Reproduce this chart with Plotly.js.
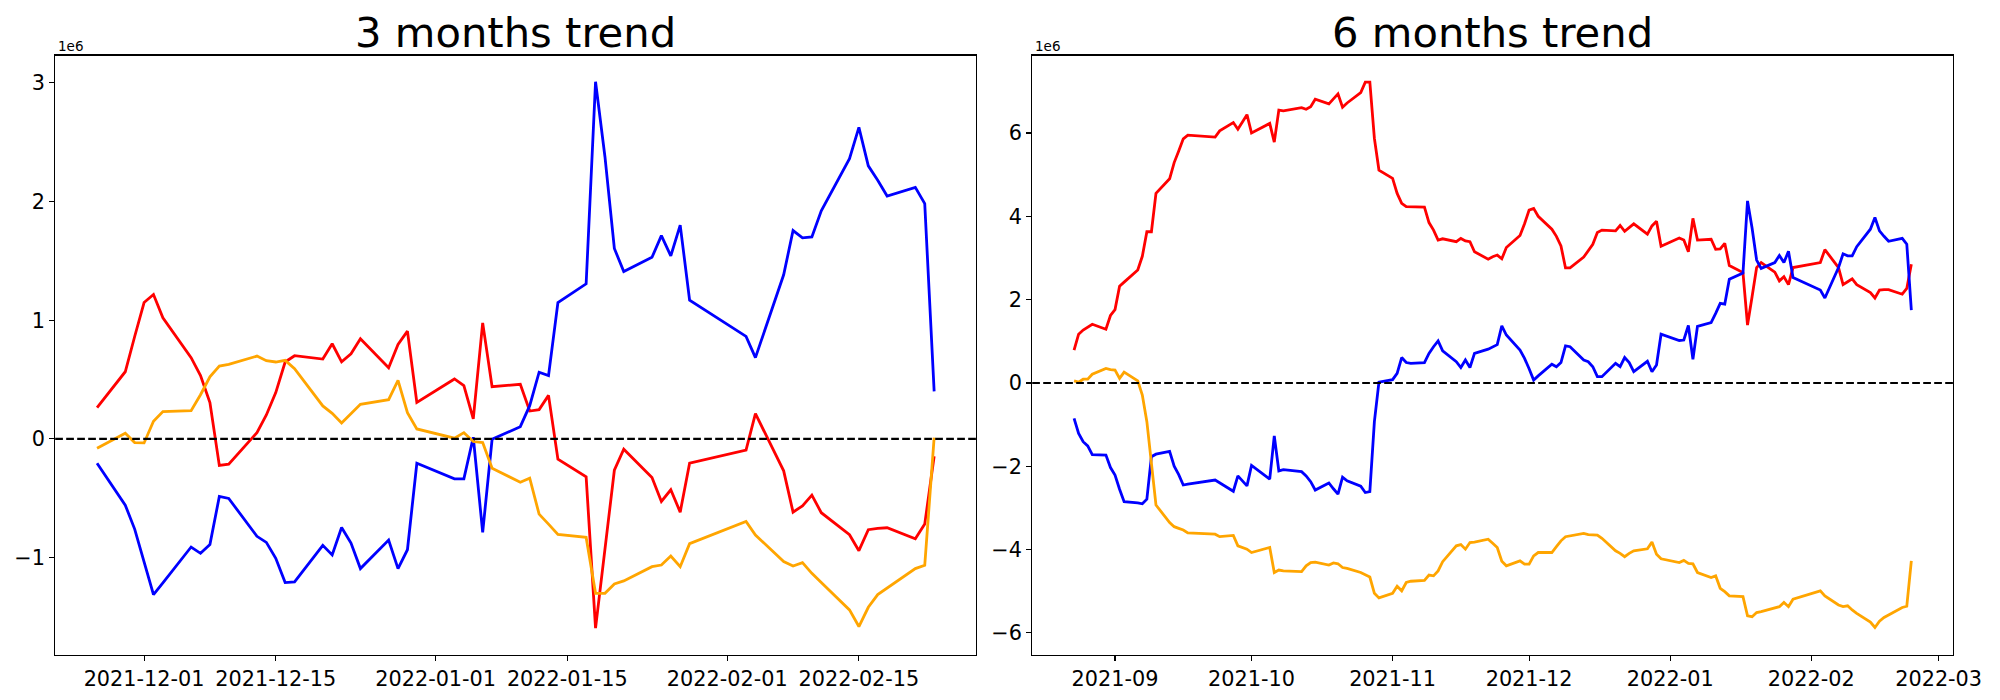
<!DOCTYPE html>
<html>
<head>
<meta charset="utf-8">
<script src="https://cdn.plot.ly/plotly-3.0.1.min.js"></script>
<style>html,body{margin:0;padding:0;background:#fff;}#chart{width:2000px;height:700px;}</style>
</head>
<body>
<div id="chart"></div>
<script>
// ---------- 3 months (values in units of 1e6) ----------
const dates3 = ["2021-11-26","2021-11-29","2021-11-30","2021-12-01","2021-12-02","2021-12-03","2021-12-06","2021-12-07","2021-12-08","2021-12-09","2021-12-10","2021-12-13","2021-12-14","2021-12-15","2021-12-16","2021-12-17","2021-12-20","2021-12-21","2021-12-22","2021-12-23","2021-12-24","2021-12-27","2021-12-28","2021-12-29","2021-12-30","2022-01-03","2022-01-04","2022-01-05","2022-01-06","2022-01-07","2022-01-10","2022-01-11","2022-01-12","2022-01-13","2022-01-14","2022-01-17","2022-01-18","2022-01-19","2022-01-20","2022-01-21","2022-01-24","2022-01-25","2022-01-26","2022-01-27","2022-01-28","2022-02-03","2022-02-04","2022-02-07","2022-02-08","2022-02-09","2022-02-10","2022-02-11","2022-02-14","2022-02-15","2022-02-16","2022-02-17","2022-02-18","2022-02-21","2022-02-22","2022-02-23"];
const red3 = [0.264,0.566,0.863,1.149,1.217,1.020,0.685,0.533,0.306,-0.224,-0.213,0.053,0.202,0.390,0.648,0.701,0.673,0.802,0.650,0.718,0.844,0.600,0.796,0.908,0.308,0.505,0.449,0.168,0.978,0.440,0.460,0.235,0.247,0.367,-0.171,-0.320,-1.595,-0.928,-0.264,-0.087,-0.325,-0.527,-0.429,-0.617,-0.205,-0.095,0.213,-0.269,-0.617,-0.564,-0.474,-0.622,-0.807,-0.942,-0.765,-0.754,-0.749,-0.841,-0.718,-0.146];
const blue3 = [-0.205,-0.558,-0.760,-1.035,-1.312,-1.214,-0.911,-0.964,-0.891,-0.485,-0.502,-0.821,-0.872,-1.006,-1.211,-1.205,-0.897,-0.978,-0.746,-0.878,-1.093,-0.852,-1.093,-0.934,-0.205,-0.336,-0.336,0.014,-0.788,-0.003,0.103,0.280,0.562,0.533,1.148,1.307,3.010,2.378,1.605,1.410,1.530,1.713,1.542,1.802,1.169,0.864,0.685,1.383,1.756,1.695,1.702,1.923,2.362,2.626,2.301,2.179,2.047,2.120,1.983,0.400];
const orange3 = [-0.078,0.048,-0.031,-0.034,0.149,0.230,0.238,0.372,0.524,0.614,0.628,0.698,0.659,0.648,0.662,0.592,0.278,0.216,0.135,0.210,0.292,0.331,0.493,0.221,0.084,0.006,0.053,-0.022,-0.031,-0.247,-0.365,-0.331,-0.634,-0.718,-0.805,-0.830,-1.301,-1.301,-1.222,-1.197,-1.077,-1.063,-0.987,-1.077,-0.883,-0.695,-0.810,-1.034,-1.071,-1.043,-1.133,-1.211,-1.441,-1.581,-1.419,-1.312,-1.256,-1.093,-1.065,0.011];
const xticks3 = ["2021-12-01","2021-12-15","2022-01-01","2022-01-15","2022-02-01","2022-02-15"];
const yticks3 = [-1,0,1,2,3];

// ---------- 6 months (values in units of 1e6) ----------
const dates6 = ["2021-08-23","2021-08-24","2021-08-25","2021-08-26","2021-08-27","2021-08-30","2021-08-31",
"2021-09-01","2021-09-02","2021-09-03","2021-09-06","2021-09-07","2021-09-08","2021-09-09","2021-09-10","2021-09-13","2021-09-14","2021-09-15","2021-09-16","2021-09-17","2021-09-23","2021-09-24","2021-09-27","2021-09-28","2021-09-29","2021-09-30",
"2021-10-01","2021-10-05","2021-10-06","2021-10-07","2021-10-08","2021-10-12","2021-10-13","2021-10-14","2021-10-15","2021-10-18","2021-10-19","2021-10-20","2021-10-21","2021-10-22","2021-10-25","2021-10-26","2021-10-27","2021-10-28","2021-10-29",
"2021-11-01","2021-11-02","2021-11-03","2021-11-04","2021-11-05","2021-11-08","2021-11-09","2021-11-10","2021-11-11","2021-11-12","2021-11-15","2021-11-16","2021-11-17","2021-11-18","2021-11-19","2021-11-22","2021-11-23","2021-11-24","2021-11-25","2021-11-26","2021-11-29","2021-11-30",
"2021-12-01","2021-12-02","2021-12-03","2021-12-06","2021-12-07","2021-12-08","2021-12-09","2021-12-10","2021-12-13","2021-12-14","2021-12-15","2021-12-16","2021-12-17","2021-12-20","2021-12-21","2021-12-22","2021-12-23","2021-12-24","2021-12-27","2021-12-28","2021-12-29","2021-12-30",
"2022-01-03","2022-01-04","2022-01-05","2022-01-06","2022-01-07","2022-01-10","2022-01-11","2022-01-12","2022-01-13","2022-01-14","2022-01-17","2022-01-18","2022-01-19","2022-01-20","2022-01-21","2022-01-24","2022-01-25","2022-01-26","2022-01-27","2022-01-28",
"2022-02-03","2022-02-04","2022-02-07","2022-02-08","2022-02-09","2022-02-10","2022-02-11","2022-02-14","2022-02-15","2022-02-16","2022-02-17","2022-02-18","2022-02-21","2022-02-22","2022-02-23"];
const red6 = [0.79,1.17,1.27,1.35,1.41,1.29,1.62,
1.76,2.32,2.42,2.71,3.04,3.63,3.63,4.55,4.90,5.29,5.57,5.86,5.95,5.90,6.05,6.25,6.09,6.27,6.44,
6.00,6.23,5.78,6.55,6.53,6.61,6.57,6.63,6.81,6.70,6.82,6.94,6.62,6.72,6.97,7.22,7.22,5.87,5.11,
4.91,4.55,4.31,4.23,4.23,4.22,3.85,3.67,3.43,3.46,3.39,3.47,3.41,3.39,3.15,2.97,3.03,3.07,2.98,3.25,3.54,3.82,
4.15,4.19,4.00,3.69,3.52,3.29,2.76,2.76,3.02,3.17,3.33,3.61,3.67,3.65,3.78,3.64,3.72,3.82,3.57,3.77,3.88,3.28,
3.48,3.43,3.15,3.95,3.43,3.45,3.21,3.22,3.35,2.82,2.65,1.39,2.07,2.77,2.89,2.66,2.45,2.55,2.36,2.77,
2.89,3.20,2.77,2.36,2.43,2.50,2.36,2.17,2.04,2.23,2.24,2.24,2.13,2.27,2.85];
const blue6 = [-0.85,-1.21,-1.41,-1.51,-1.72,-1.73,-2.03,
-2.21,-2.55,-2.85,-2.88,-2.90,-2.79,-1.77,-1.71,-1.64,-2.00,-2.20,-2.45,-2.43,-2.33,-2.40,-2.60,-2.23,-2.35,-2.47,
-1.98,-2.31,-1.27,-2.11,-2.08,-2.13,-2.23,-2.37,-2.57,-2.40,-2.54,-2.67,-2.26,-2.35,-2.48,-2.63,-2.61,-0.93,0.02,
0.08,0.23,0.61,0.49,0.47,0.49,0.71,0.87,1.01,0.77,0.51,0.37,0.55,0.37,0.71,0.81,0.86,0.92,1.37,1.15,0.79,0.59,
0.34,0.07,0.17,0.45,0.39,0.49,0.89,0.87,0.55,0.51,0.39,0.15,0.15,0.47,0.39,0.61,0.49,0.27,0.52,0.27,0.43,1.17,
1.02,1.03,1.38,0.57,1.36,1.45,1.67,1.91,1.89,2.49,2.64,4.37,3.72,2.95,2.75,2.89,3.06,2.89,3.16,2.53,
2.23,2.04,2.77,3.10,3.05,3.05,3.27,3.69,3.97,3.65,3.52,3.40,3.47,3.33,1.75];
const orange6 = [0.05,0.02,0.09,0.09,0.21,0.35,0.32,
0.31,0.11,0.26,0.05,-0.29,-0.93,-1.95,-2.93,-3.35,-3.45,-3.49,-3.53,-3.60,-3.63,-3.69,-3.66,-3.91,-3.95,-3.99,
-4.07,-3.95,-4.55,-4.49,-4.51,-4.53,-4.39,-4.31,-4.30,-4.37,-4.32,-4.34,-4.43,-4.45,-4.55,-4.61,-4.66,-5.05,-5.16,
-5.05,-4.88,-4.99,-4.79,-4.76,-4.74,-4.61,-4.63,-4.51,-4.29,-3.91,-3.88,-3.99,-3.83,-3.82,-3.75,-3.85,-3.95,-4.28,-4.39,-4.27,-4.35,
-4.35,-4.15,-4.07,-4.07,-3.93,-3.79,-3.69,-3.67,-3.61,-3.64,-3.65,-3.65,-3.73,-4.03,-4.09,-4.17,-4.09,-4.03,-3.98,-3.82,-4.11,-4.22,
-4.31,-4.26,-4.33,-4.34,-4.55,-4.67,-4.63,-4.93,-5.01,-5.11,-5.13,-5.59,-5.61,-5.51,-5.49,-5.39,-5.37,-5.27,-5.37,-5.19,
-4.99,-5.11,-5.33,-5.37,-5.35,-5.45,-5.53,-5.74,-5.87,-5.72,-5.63,-5.57,-5.39,-5.36,-4.27];
const xticks6 = ["2021-09-01","2021-10-01","2021-11-01","2021-12-01","2022-01-01","2022-02-01","2022-03-01"];
const xticks6Text = ["2021-09","2021-10","2021-11","2021-12","2022-01","2022-02","2022-03"];
const yticks6 = [-6,-4,-2,0,2,4,6];

const seriesColors = {red:"#ff0000", blue:"#0000ff", orange:"#ffa500"};
const FONT = "DejaVu Sans, sans-serif";
const minus = v => (v < 0 ? "\u2212" + Math.abs(v) : String(v));

function line(x, y, color, xa, ya) {
  return {x: x, y: y, type: "scatter", mode: "lines", xaxis: xa, yaxis: ya,
          line: {color: color, width: 2.8}, hoverinfo: "skip", showlegend: false};
}

const traces = [
  line(dates3, red3, seriesColors.red, "x", "y"),
  line(dates3, blue3, seriesColors.blue, "x", "y"),
  line(dates3, orange3, seriesColors.orange, "x", "y"),
  line(dates6, red6, seriesColors.red, "x2", "y2"),
  line(dates6, blue6, seriesColors.blue, "x2", "y2"),
  line(dates6, orange6, seriesColors.orange, "x2", "y2")
];

const axisCommon = {
  showgrid: false, zeroline: false, showline: true, mirror: true,
  linecolor: "#000", linewidth: 1.1, ticks: "outside", ticklen: 5, tickwidth: 1.1,
  tickcolor: "#000", tickfont: {family: FONT, size: 20.8, color: "#000"}
};

const yDomain = [0.0643, 0.9207];

const layout = {
  width: 2000, height: 700,
  margin: {l: 0, r: 0, t: 0, b: 0},
  paper_bgcolor: "#fff", plot_bgcolor: "#fff",
  font: {family: FONT, color: "#000"},
  xaxis: Object.assign({}, axisCommon, {
    domain: [0.0276, 0.488], type: "date",
    range: ["2021-11-21 13:12", "2022-02-27 10:48"],
    tickmode: "array", tickvals: xticks3, ticktext: xticks3, anchor: "y"
  }),
  yaxis: Object.assign({}, axisCommon, {
    domain: yDomain, range: [-1.821, 3.231], anchor: "x",
    tickmode: "array", tickvals: yticks3, ticktext: yticks3.map(minus)
  }),
  xaxis2: Object.assign({}, axisCommon, {
    domain: [0.5161, 0.9766], type: "date",
    range: ["2021-08-13 19:12", "2022-03-04 04:48"],
    tickmode: "array", tickvals: xticks6, ticktext: xticks6Text, anchor: "y2"
  }),
  yaxis2: Object.assign({}, axisCommon, {
    domain: yDomain, range: [-6.53, 7.86], anchor: "x2",
    tickmode: "array", tickvals: yticks6, ticktext: yticks6.map(minus)
  }),
  shapes: [
    {type: "line", xref: "x domain", yref: "y", x0: 0, x1: 1, y0: 0, y1: 0,
     line: {color: "#000", width: 2.1, dash: "7.7px,3.3px"}, layer: "above"},
    {type: "line", xref: "x2 domain", yref: "y2", x0: 0, x1: 1, y0: 0, y1: 0,
     line: {color: "#000", width: 2.1, dash: "7.7px,3.3px"}, layer: "above"}
  ],
  annotations: [
    {text: "3 months trend", xref: "paper", yref: "paper", x: 0.2578, y: 0.9531,
     xanchor: "center", yanchor: "middle", showarrow: false,
     font: {family: FONT, size: 41.7, color: "#000"}},
    {text: "6 months trend", xref: "paper", yref: "paper", x: 0.7463, y: 0.9531,
     xanchor: "center", yanchor: "middle", showarrow: false,
     font: {family: FONT, size: 41.7, color: "#000"}},
    {text: "1e6", xref: "paper", yref: "paper", x: 0.0278, y: 0.9336,
     xanchor: "left", yanchor: "middle", showarrow: false,
     font: {family: FONT, size: 13.5, color: "#000"}},
    {text: "1e6", xref: "paper", yref: "paper", x: 0.5163, y: 0.9336,
     xanchor: "left", yanchor: "middle", showarrow: false,
     font: {family: FONT, size: 13.5, color: "#000"}}
  ]
};

Plotly.newPlot("chart", traces, layout, {staticPlot: true, displayModeBar: false});
</script>
</body>
</html>
